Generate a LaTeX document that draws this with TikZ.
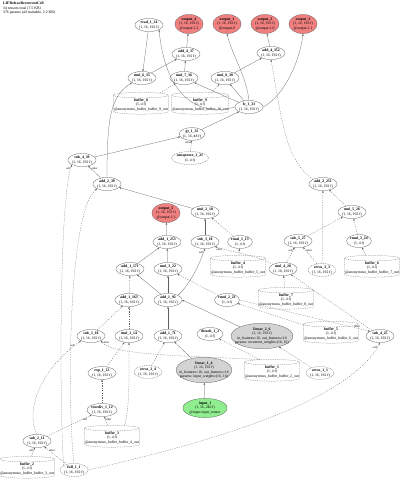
\documentclass[tikz,border=0pt]{standalone}
\usepackage{fontspec}
\setmainfont{Liberation Serif}
\usetikzlibrary{shapes.geometric, arrows.meta, positioning}
\definecolor{outred}{RGB}{240,128,128}
\definecolor{lingray}{RGB}{211,211,211}
\definecolor{ingreen}{RGB}{144,238,144}
\definecolor{edgegray}{RGB}{95,95,95}
\newcommand{\optxt}[2]{\textbf{#1}\\#2}
\newcommand{\bigtxt}[4]{\textbf{#1}\\#2\\#3\\#4}
\newcommand{\buftxt}[3]{\textbf{#1}\\#2\\#3}

\begin{document}
\begin{tikzpicture}[x=1pt, y=-1pt, >={Stealth[length=2.2pt, width=1.7pt]},
    font=\fontsize{3.8}{4.4}\selectfont,
    op/.style={ellipse, draw=black!70, line width=0.25pt, inner xsep=0pt, inner ysep=0.7pt, align=center},
    constop/.style={op, dash pattern=on 1pt off 0.8pt},
    outnode/.style={op, fill=outred},
    linnode/.style={op, fill=lingray, inner xsep=-5pt},
    innode/.style={op, fill=ingreen},
    buf/.style={cylinder, shape border rotate=90, aspect=0.1, draw=black!60, dash pattern=on 1pt off 0.8pt, line width=0.25pt, align=center, inner xsep=0.5pt, inner ysep=0.8pt},
    flow/.style={->, draw=edgegray, line width=0.25pt},
    constflow/.style={flow, dash pattern=on 1.2pt off 1.2pt},
    lbl/.style={font=\fontsize{2.8}{3}\selectfont, inner sep=0.2pt}]

    \useasboundingbox (0,0) rectangle (400,483);

    % 1. Title
    \node[anchor=north west, align=left, inner sep=0pt] (title) at (3,2)
        {\textbf{LIFRefracRecurrentCell}\\34 tensors total (7.5 KB)\\376 params (all trainable, 2.2 KB)};

    % 2. Outputs and top layer
    \node[op] (read_1_34) at (149,25) {\optxt{read\_1\_34}{(1, 16, 192 f)}};
    \node[outnode] (output_4) at (189,24) {\buftxt{output\_4}{(1, 16, 192 f)}{@output.1.2}};
    \node[outnode] (output_1) at (227,24) {\buftxt{output\_1}{(1, 16, 192 f)}{@output.0}};
    \node[outnode] (output_2) at (265,24) {\buftxt{output\_2}{(1, 16, 192 f)}{@output.1.0}};
    \node[outnode] (output_3) at (303,24) {\buftxt{output\_3}{(1, 16, 192 f)}{@output.1.1}};
    \node[op] (add_4_37) at (186,54) {\optxt{add\_4\_37}{(1, 16, 192 f)}};
    \node[op] (add_4_352) at (271,53) {\optxt{add\_4\_352}{(1, 16, 192 f)}};
    \node[op] (mul_6_35) at (142,78) {\optxt{mul\_6\_35}{(1, 16, 192 f)}};
    \node[op] (mul_7_36) at (184,78) {\optxt{mul\_7\_36}{(1, 16, 192 f)}};
    \node[op] (mul_8_38) at (225,78) {\optxt{mul\_8\_38}{(1, 16, 192 f)}};
    \node[buf] (buffer_8) at (141,105) {\buftxt{buffer\_8}{(1, 4 f)}{@anonymous\_buffer\_buffer\_9\_out}};
    \node[buf] (buffer_9) at (200,105) {\buftxt{buffer\_9}{(1, 4 f)}{@anonymous\_buffer\_buffer\_10\_out}};
    \node[op] (fc_1_33) at (249,107) {\optxt{fc\_1\_33}{(1, 16, 192 f)}};
    \node[op] (gt_1_32) at (192,134) {\optxt{gt\_1\_32}{(1, 16, 48 f)}};
    \node[constop] (unsqueeze_1_21) at (190,158) {\optxt{unsqueeze\_1\_21}{(1, 4 f)}};

    % 3. Membrane update
    \node[op] (sub_4_39) at (82,160) {\optxt{sub\_4\_39}{(1, 16, 192 f)}};
    \node[op] (add_2_39) at (107,184) {\optxt{add\_2\_39}{(1, 16, 192 f)}};
    \node[op] (add_2_251) at (323,184) {\optxt{add\_2\_251}{(1, 16, 192 f)}};
    \node[outnode] (output_5) at (166,213) {\buftxt{output\_5}{(1, 16, 192 f)}{@output.1.3}};
    \node[op] (mul_2_10) at (205,212) {\optxt{mul\_2\_10}{(1, 16, 192 f)}};
    \node[op] (mul_5_26) at (352,212) {\optxt{mul\_5\_26}{(1, 16, 192 f)}};
    \node[op] (add_1_253) at (167,242) {\optxt{add\_1\_253}{(1, 16, 192 f)}};
    \node[op] (sub_3_18) at (205,242) {\optxt{sub\_3\_18}{(1, 16, 192 f)}};
    \node[op] (rmul_1_15) at (240,242) {\optxt{rmul\_1\_15}{(1, 4 f)}};
    \node[op] (sub_5_27) at (298,241) {\optxt{sub\_5\_27}{(1, 16, 192 f)}};
    \node[op] (rmul_3_24) at (359,241) {\optxt{rmul\_3\_24}{(1, 4 f)}};
    \node[buf] (buffer_4) at (238,268) {\buftxt{buffer\_4}{(1, 4 f)}{@anonymous\_buffer\_buffer\_5\_out}};
    \node[op] (mul_4_28) at (283,269) {\optxt{mul\_4\_28}{(1, 16, 192 f)}};
    \node[constop] (zeros_3_3) at (322,270) {\optxt{zeros\_3\_3}{(1, 16, 192 f)}};
    \node[buf] (buffer_6) at (372,268) {\buftxt{buffer\_6}{(1, 4 f)}{@anonymous\_buffer\_buffer\_7\_out}};
    \node[op] (add_1_171) at (130,269) {\optxt{add\_1\_171}{(1, 16, 192 f)}};
    \node[op] (mul_3_22) at (168,269) {\optxt{mul\_3\_22}{(1, 16, 192 f)}};
    \node[op] (rmul_2_21) at (227,300) {\optxt{rmul\_2\_21}{(1, 4 f)}};
    \node[buf] (buffer_7) at (286,300) {\buftxt{buffer\_7}{(1, 4 f)}{@anonymous\_buffer\_buffer\_8\_out}};
    \node[op] (add_1_163) at (129,300) {\optxt{add\_1\_163}{(1, 16, 192 f)}};
    \node[op] (add_1_92) at (168,300) {\optxt{add\_1\_92}{(1, 16, 192 f)}};

    % 4. Linear layers and inputs
    \node[linnode] (linear_2_6) at (262,336) {\bigtxt{linear\_2\_6}{(1, 16, 192 f)}{in\_features=16, out\_features=16}{params: recurrent\_weights:(16, 16)}};
    \node[buf] (buffer_5) at (331,334) {\buftxt{buffer\_5}{(1, 4 f)}{@anonymous\_buffer\_buffer\_6\_out}};
    \node[op] (sub_4_25) at (380,336) {\optxt{sub\_4\_25}{(1, 16, 192 f)}};
    \node[op] (sub_1_18) at (91,336) {\optxt{sub\_1\_18}{(1, 16, 192 f)}};
    \node[op] (mul_1_14) at (129,336) {\optxt{mul\_1\_14}{(1, 16, 192 f)}};
    \node[op] (add_1_71) at (168,336) {\optxt{add\_1\_71}{(1, 16, 192 f)}};
    \node[op] (detach_1_2) at (210,334) {\optxt{detach\_1\_2}{(1, 4 f)}};
    \node[constop] (zeros_2_4) at (148,372) {\optxt{zeros\_2\_4}{(1, 16, 192 f)}};
    \node[linnode] (linear_1_4) at (204,370) {\bigtxt{linear\_1\_4}{(1, 16, 192 f)}{in\_features=16, out\_features=16}{params: input\_weights:(16, 16)}};
    \node[buf] (buffer_1) at (272,372) {\buftxt{buffer\_1}{(1, 4 f)}{@anonymous\_buffer\_buffer\_2\_out}};
    \node[constop] (zeros_1_1) at (320,373) {\optxt{zeros\_1\_1}{(1, 16, 192 f)}};
    \node[op] (exp_1_13) at (102,373) {\optxt{exp\_1\_13}{(1, 16, 192 f)}};
    \node[innode] (input_1) at (205,408) {\buftxt{input\_1}{(1, 16, 240 f)}{@input.input\_tensor}};
    \node[op] (truediv_1_12) at (102,410) {\optxt{truediv\_1\_12}{(1, 16, 192 f)}};
    \node[buf] (buffer_3) at (112,438) {\buftxt{buffer\_3}{(1, 4 f)}{@anonymous\_buffer\_buffer\_4\_out}};
    \node[op] (sub_2_11) at (37,441) {\optxt{sub\_2\_11}{(1, 16, 192 f)}};
    \node[buf] (buffer_2) at (27,469) {\buftxt{buffer\_2}{(1, 4 f)}{@anonymous\_buffer\_buffer\_3\_out}};
    \node[constop] (full_1_1) at (74,470) {\optxt{full\_1\_1}{(1, 16, 192 f)}};

    % 5. Connectors, top
    \draw[flow] (fc_1_33.west) .. controls (195,118) and (165,92) .. (read_1_34.south east);
    \draw[flow] (read_1_34) -- (mul_6_35);
    \draw[flow] (add_2_39.north) .. controls (107,120) and (110,96) .. (mul_6_35.south west);
    \draw[flow] (mul_6_35) -- (add_4_37);
    \draw[flow] (mul_7_36) -- (add_4_37);
    \draw[flow] (add_4_37) -- (output_4);
    \draw[constflow] (buffer_8) -- (mul_7_36);
    \draw[flow] (fc_1_33) -- (mul_7_36);
    \draw[flow] (fc_1_33) -- (mul_8_38);
    \draw[constflow] (buffer_9) -- (mul_8_38);
    \draw[flow] (mul_8_38) -- (add_4_352);
    \draw[flow] (add_4_352) -- (output_2);
    \draw[flow] (fc_1_33.north) .. controls (246,75) and (232,55) .. (output_1.south);
    \draw[flow] (fc_1_33.east) .. controls (285,95) and (300,60) .. (output_3.south);
    \draw[constflow] (add_2_251.north west) .. controls (285,160) and (282,120) .. (add_4_352.south);
    \draw[flow] (gt_1_32) -- (fc_1_33);
    \draw[constflow] (unsqueeze_1_21) -- node[lbl, pos=0.8, left] {other} (gt_1_32);
    \draw[flow] (sub_4_39) -- (gt_1_32);

    % 6. Connectors, membrane
    \draw[flow] (add_2_39) -- node[lbl, pos=0.75, right] {other} (sub_4_39);
    \draw[constflow] (full_1_1.north west) .. controls (60,440) and (58,200) .. node[lbl, pos=0.97, left] {self} (sub_4_39.south west);
    \draw[constflow] (full_1_1.north) .. controls (68,420) and (66,215) .. (add_2_39.south west);
    \draw[flow] (mul_2_10) -- (add_2_39);
    \draw[flow] (add_1_253) -- (output_5);
    \draw[flow] (sub_3_18) -- (mul_2_10);
    \draw[constflow] (rmul_1_15) -- (mul_2_10);
    \draw[constflow] (buffer_4) -- (rmul_1_15);
    \draw[flow] (add_1_171) -- (add_1_253);
    \draw[flow] (mul_3_22) -- (add_1_253);
    \draw[flow] (add_1_92.north east) .. controls (192,282) and (200,262) .. node[lbl, pos=0.9, left] {self} (sub_3_18.south);
    \draw[constflow] (mul_4_28.north west) .. controls (255,255) and (232,252) .. node[lbl, pos=0.92, below] {other} (sub_3_18.south east);
    \draw[constflow] (zeros_3_3) -- (add_2_251);
    \draw[constflow] (mul_5_26) -- (add_2_251);
    \draw[constflow] (sub_5_27) -- (mul_5_26);
    \draw[constflow] (rmul_3_24) -- (mul_5_26);
    \draw[constflow] (buffer_6) -- (rmul_3_24);
    \draw[constflow] (mul_4_28) -- node[lbl, pos=0.8, left] {self} (sub_5_27);
    \draw[constflow] (zeros_3_3) -- node[lbl, pos=0.8, right] {other} (sub_5_27);
    \draw[constflow] (buffer_7) -- (mul_4_28);
    \draw[constflow] (sub_4_25) -- (mul_4_28);
    \draw[constflow] (add_1_163) -- (add_1_171);
    \draw[flow] (add_1_92) -- (add_1_171);
    \draw[flow] (add_1_92) -- (mul_3_22);
    \draw[constflow] (rmul_2_21) -- (mul_3_22);
    \draw[constflow] (buffer_5) -- (rmul_2_21);
    \draw[constflow] (rmul_2_21.east) -- node[lbl, pos=0.9, above] {other} (sub_4_25.north west);
    \draw[constflow] (full_1_1.east) .. controls (220,440) and (350,400) .. node[lbl, pos=0.97, left] {self} (sub_4_25.south);

    % 7. Connectors, inputs
    \draw[constflow] (sub_1_18) -- (add_1_163);
    \draw[constflow] (mul_1_14) -- (add_1_163);
    \draw[flow] (add_1_71) -- (add_1_92);
    \draw[flow] (linear_2_6.north west) -- (add_1_92.east);
    \draw[constflow] (zeros_1_1) -- (linear_2_6);
    \draw[constflow] (buffer_1.north west) -- (detach_1_2);
    \draw[flow] (linear_1_4) -- (add_1_71);
    \draw[constflow] (zeros_2_4) -- (add_1_71);
    \draw[flow] (input_1) -- (linear_1_4);
    \draw[constflow] (exp_1_13) -- (mul_1_14);
    \draw[constflow] (buffer_3.north east) .. controls (130,410) and (129,370) .. (mul_1_14.south);
    \draw[constflow] (truediv_1_12) -- (exp_1_13);
    \draw[constflow] (sub_2_11) -- node[lbl, pos=0.85, below] {self} (truediv_1_12);
    \draw[constflow] (buffer_3) -- node[lbl, pos=0.7, right] {other} (truediv_1_12);
    \draw[constflow] (buffer_2) -- node[lbl, pos=0.7, left] {self} (sub_2_11);
    \draw[constflow] (full_1_1) -- node[lbl, pos=0.8, right] {other} (sub_2_11);
    \draw[constflow] (sub_2_11.north) .. controls (25,410) and (40,370) .. node[lbl, pos=0.95, left] {self} (sub_1_18.south west);
    \draw[constflow] (buffer_1.north west) .. controls (200,356) and (110,356) .. node[lbl, pos=0.95, right] {other} (sub_1_18.south east);

\end{tikzpicture}
\end{document}
